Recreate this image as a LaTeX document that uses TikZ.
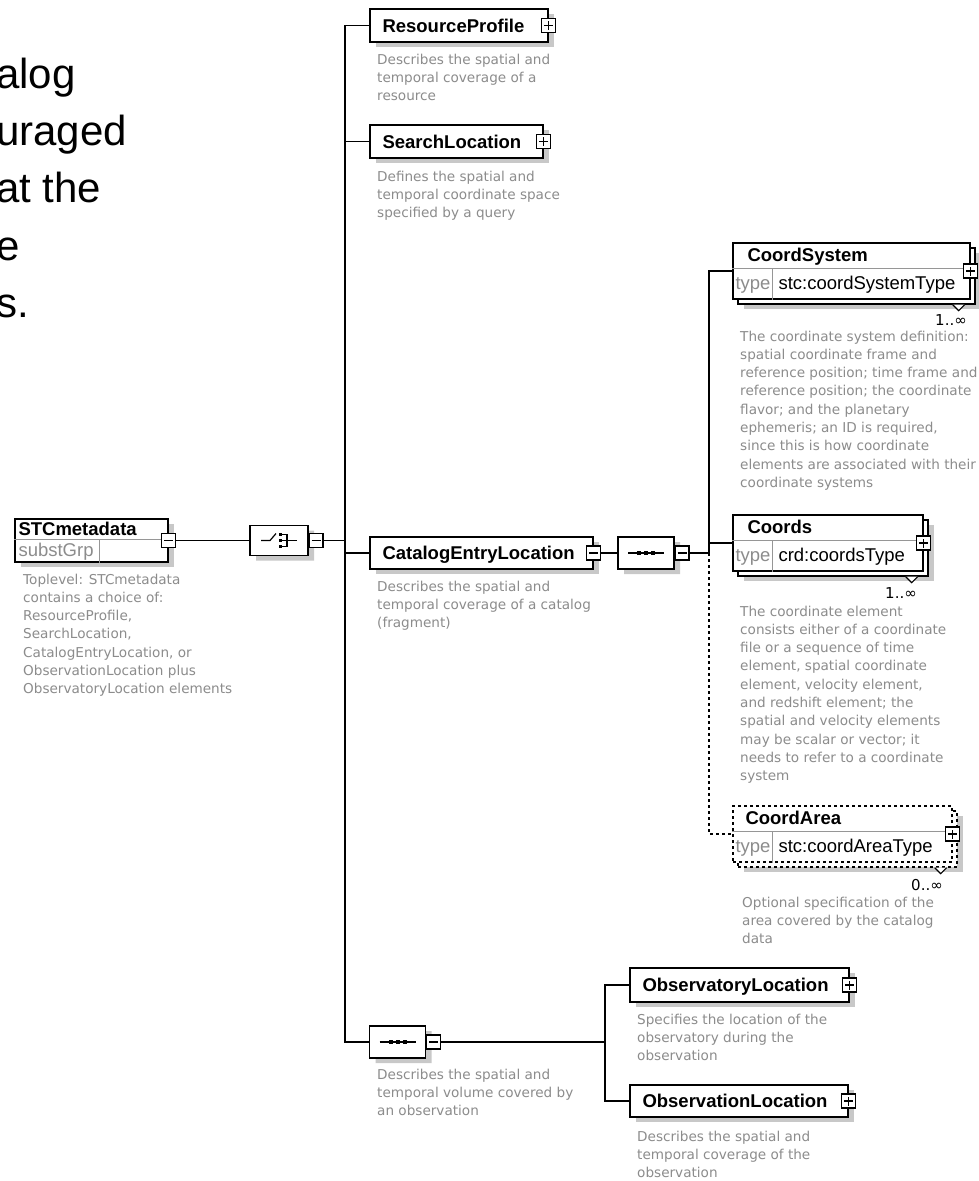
\documentclass[tikz,border=0pt]{standalone}
\usepackage{fontspec}
\setmainfont{DejaVu Sans}
\newfontfamily\headfont{Liberation Sans}
\newfontfamily\notefont{DejaVu Sans}
\usetikzlibrary{calc,shapes.misc}

\definecolor{notegray}{RGB}{140,140,140}
\definecolor{shade}{RGB}{200,200,200}
\definecolor{rulegray}{RGB}{150,150,150}

\tikzset{
  wire/.style={line width=1.3pt, black},
  optwire/.style={wire, dash pattern=on 3pt off 3pt},
  shadowed/.style={preaction={draw=none, fill=shade, transform canvas={shift={(6pt,-5pt)}}}},
  elembox/.style={rectangle, draw=black, line width=1.4pt, fill=white, inner sep=0pt},
  optbox/.style={elembox, dash pattern=on 3pt off 3pt},
  compositor/.style={chamfered rectangle, chamfered rectangle xsep=7pt, chamfered rectangle ysep=7pt,
    draw=black, line width=1.3pt, fill=white, inner sep=0pt, shadowed},
  btn/.style={rectangle, draw=black, line width=1.1pt, fill=white, minimum size=14pt, inner sep=0pt},
  minusbtn/.style={btn, path picture={\draw[line width=1.1pt]
    ($(path picture bounding box.center)+(-4.5pt,0pt)$) -- ($(path picture bounding box.center)+(4.5pt,0pt)$);}},
  plusbtn/.style={btn, path picture={\draw[line width=1.1pt]
    ($(path picture bounding box.center)+(-4.5pt,0pt)$) -- ($(path picture bounding box.center)+(4.5pt,0pt)$)
    ($(path picture bounding box.center)+(0pt,-4.5pt)$) -- ($(path picture bounding box.center)+(0pt,4.5pt)$);}},
  elemname/.style={font=\headfont\bfseries\fontsize{18.5}{20}\selectfont, inner sep=0pt, anchor=west,
    text height=13.2pt, text depth=0pt},
  typename/.style={font=\headfont\fontsize{18.5}{20}\selectfont, inner sep=0pt, anchor=west,
    text height=13.2pt, text depth=0pt},
  typelabel/.style={typename, text=notegray},
  note/.style={font=\notefont\fontsize{13.6}{18.3}\selectfont, text=notegray, align=left,
    anchor=north west, inner sep=0pt},
  card/.style={font=\notefont\fontsize{15}{15}\selectfont, inner sep=0pt, anchor=east},
  slide/.style={font=\headfont\fontsize{42}{57}\selectfont, inner sep=0pt, anchor=base west},
  notch/.style={draw=black, line width=1.1pt, fill=white},
}

\begin{document}
\begin{tikzpicture}[x=1pt, y=-1pt]
\useasboundingbox (0,0) rectangle (978,1181);
\fill[white] (0,0) rectangle (978,1181);

% slide text running off the left edge
\node[slide] (s1) at (-4,88) {alog};
\node[slide] (s2) at (-4,145) {uraged};
\node[slide] (s3) at (-4,202) {at the};
\node[slide] (s4) at (-4,260) {e};
\node[slide] (s5) at (-4,317) {s.};

% ---------- root element ----------
\node[elembox, shadowed, minimum width=153pt, minimum height=43pt] (stcm) at (91.5,540.5) {};
\draw[rulegray, line width=1pt] ($(stcm.north west)+(0,21)$) -- ($(stcm.north east)+(0,21)$);
\draw[rulegray, line width=1pt] ($(stcm.north west)+(85,21)$) -- ($(stcm.south west)+(85,0)$);
\node[elemname] (stcmname) at ($(stcm.north west)+(4,11)$) {STCmetadata};
\node[typelabel] (stcmsub) at ($(stcm.north west)+(4,32)$) {substGrp};
\node[minusbtn] (stcmbtn) at (stcm.east) {};
\node[note] (stcmnote) at (23,573.5) {Toplevel: STCmetadata\\contains a choice of:\\ResourceProfile,\\SearchLocation,\\CatalogEntryLocation, or\\ObservationLocation plus\\ObservatoryLocation elements};

% ---------- choice compositor ----------
\node[compositor, minimum width=58pt, minimum height=30pt] (choice) at (279,540.5) {};
\node[minusbtn] (choicebtn) at (316,540.5) {};
\draw[wire, line width=1.2pt] ($(choice.center)+(-18,0)$) -- ($(choice.center)+(-9,0)$) -- ($(choice.center)+(-3,-7)$);
\foreach \dy in {-6,0,6}{
  \fill ($(choice.center)+(0,\dy-1.5)$) rectangle ++(3,3);
  \draw[line width=1.1pt] ($(choice.center)+(3,\dy)$) -- ($(choice.center)+(8,\dy)$);
}
\draw[line width=1.2pt] ($(choice.center)+(8,-6.5)$) -- ($(choice.center)+(8,6.5)$);
\draw[line width=1.2pt] ($(choice.center)+(8,0)$) -- ($(choice.center)+(18,0)$);
\draw[wire] (stcmbtn.east) -- (choice.west);

% ---------- children of the choice ----------
\node[elembox, shadowed, minimum width=178pt, minimum height=33pt] (rp) at (459,25.5) {};
\node[elemname] (rpname) at ($(rp.west)+(13,0)$) {ResourceProfile};
\node[plusbtn] (rpbtn) at (rp.east) {};
\node[note] (rpnote) at (377,53.5) {Describes the spatial and\\temporal coverage of a\\resource};

\node[elembox, shadowed, minimum width=173pt, minimum height=33pt] (sl) at (456.5,141.5) {};
\node[elemname] (slname) at ($(sl.west)+(13,0)$) {SearchLocation};
\node[plusbtn] (slbtn) at (sl.east) {};
\node[note] (slnote) at (377,170.5) {Defines the spatial and\\temporal coordinate space\\specified by a query};

\node[elembox, shadowed, minimum width=223pt, minimum height=32pt] (cel) at (481.5,553) {};
\node[elemname] (celname) at ($(cel.west)+(13,0)$) {CatalogEntryLocation};
\node[minusbtn] (celbtn) at (cel.east) {};
\node[note] (celnote) at (377,580.5) {Describes the spatial and\\temporal coverage of a catalog\\(fragment)};

\node[compositor, minimum width=56pt, minimum height=32pt] (seqB) at (397.5,1042) {};
\node[minusbtn] (seqBbtn) at (433.5,1042) {};
\node[note] (seqBnote) at (377,1068.5) {Describes the spatial and\\temporal volume covered by\\an observation};

% main bus
\coordinate (bus) at (345,0);
\draw[wire] (rp.west) -- (rp.west -| bus) -- (seqB.west -| bus) -- (seqB.west);
\draw[wire] (sl.west) -- (sl.west -| bus);
\draw[wire] (cel.west) -- (cel.west -| bus);
\draw[wire] (choicebtn.east) -- (choicebtn.east -| bus);

% ---------- sequence under CatalogEntryLocation ----------
\node[compositor, minimum width=56pt, minimum height=32pt] (seqA) at (646,553) {};
\node[minusbtn] (seqAbtn) at (682,553) {};
\draw[wire] (celbtn.east) -- (seqA.west);

% CoordSystem (1..unbounded)
\node[elembox, shadowed, minimum width=237pt, minimum height=56pt] (csysback) at (856.5,276) {};
\node[elembox, minimum width=237pt, minimum height=56pt] (csys) at (851.5,271) {};
\draw[rulegray, line width=1pt] ($(csys.north west)+(0,26)$) -- ($(csys.north east)+(0,26)$);
\draw[rulegray, line width=1pt] ($(csys.north west)+(40,26)$) -- ($(csys.south west)+(40,0)$);
\node[elemname] (csysname) at ($(csys.north west)+(15,13)$) {CoordSystem};
\node[typelabel] (csystype) at ($(csys.north west)+(3,41)$) {type};
\node[typename] (csysval) at ($(csys.north west)+(46,41)$) {stc:coordSystemType};
\node[plusbtn] (csysbtn) at (csys.east) {};
\draw[notch] ($(csysback.south east)+(-23,0)$) -- ++(6,6) -- ++(6,-6);
\node[card] (csyscard) at (967,320) {1..∞};
\node[note] (csysnote) at (740,330.5) {The coordinate system definition:\\spatial coordinate frame and\\reference position; time frame and\\reference position; the coordinate\\flavor; and the planetary\\ephemeris; an ID is required,\\since this is how coordinate\\elements are associated with their\\coordinate systems};

% Coords (1..unbounded)
\node[elembox, shadowed, minimum width=190pt, minimum height=56pt] (crdsback) at (833,548) {};
\node[elembox, minimum width=190pt, minimum height=56pt] (crds) at (828,543) {};
\draw[rulegray, line width=1pt] ($(crds.north west)+(0,26)$) -- ($(crds.north east)+(0,26)$);
\draw[rulegray, line width=1pt] ($(crds.north west)+(40,26)$) -- ($(crds.south west)+(40,0)$);
\node[elemname] (crdsname) at ($(crds.north west)+(15,13)$) {Coords};
\node[typelabel] (crdstype) at ($(crds.north west)+(3,41)$) {type};
\node[typename] (crdsval) at ($(crds.north west)+(46,41)$) {crd:coordsType};
\node[plusbtn] (crdsbtn) at (crds.east) {};
\draw[notch] ($(crdsback.south east)+(-23,0)$) -- ++(6,6) -- ++(6,-6);
\node[card] (crdscard) at (917,593) {1..∞};
\node[note] (crdsnote) at (740,605.5) {The coordinate element\\consists either of a coordinate\\file or a sequence of time\\element, spatial coordinate\\element, velocity element,\\and redshift element; the\\spatial and velocity elements\\may be scalar or vector; it\\needs to refer to a coordinate\\system};

% CoordArea (0..unbounded, optional)
\node[optbox, shadowed, minimum width=219pt, minimum height=56pt] (careaback) at (847.5,839) {};
\node[optbox, minimum width=219pt, minimum height=56pt] (carea) at (842.5,834) {};
\draw[rulegray, line width=1pt] ($(carea.north west)+(0,26)$) -- ($(carea.north east)+(0,26)$);
\draw[rulegray, line width=1pt] ($(carea.north west)+(40,26)$) -- ($(carea.south west)+(40,0)$);
\node[elemname] (careaname) at ($(carea.north west)+(13,13)$) {CoordArea};
\node[typelabel] (careatype) at ($(carea.north west)+(3,41)$) {type};
\node[typename] (careaval) at ($(carea.north west)+(46,41)$) {stc:coordAreaType};
\node[plusbtn] (careabtn) at (carea.east) {};
\draw[notch] ($(careaback.south east)+(-23,0)$) -- ++(6,6) -- ++(6,-6);
\node[card] (careacard) at (943,885) {0..∞};
\node[note] (careanote) at (742,896.5) {Optional specification of the\\area covered by the catalog\\data};

% bus of the catalog sequence
\coordinate (bus2) at (709,0);
\draw[wire] (csys.west) -- (csys.west -| bus2) -- (seqAbtn.east -| bus2);
\draw[wire] (crds.west) -- (crds.west -| bus2);
\draw[wire] (seqAbtn.east) -- (seqAbtn.east -| bus2);
\draw[optwire] (seqAbtn.east -| bus2) -- (carea.west -| bus2) -- (carea.west);

% ---------- sequence for the observation ----------
\node[elembox, shadowed, minimum width=219pt, minimum height=34pt] (obsy) at (739.5,985) {};
\node[elemname] (obsyname) at ($(obsy.west)+(13,0)$) {ObservatoryLocation};
\node[plusbtn] (obsybtn) at (obsy.east) {};
\node[note] (obsynote) at (637,1013.5) {Specifies the location of the\\observatory during the\\observation};

\node[elembox, shadowed, minimum width=218pt, minimum height=32pt] (obsn) at (739,1101) {};
\node[elemname] (obsnname) at ($(obsn.west)+(13,0)$) {ObservationLocation};
\node[plusbtn] (obsnbtn) at (obsn.east) {};
\node[note] (obsnnote) at (637,1130.5) {Describes the spatial and\\temporal coverage of the\\observation};

\coordinate (bus3) at (605,0);
\draw[wire] (obsy.west) -- (obsy.west -| bus3) -- (obsn.west -| bus3) -- (obsn.west);
\draw[wire] (seqBbtn.east) -- (seqBbtn.east -| bus3);

% sequence symbols
\foreach \s in {seqA,seqB}{
  \draw[line width=1.2pt] ($(\s.center)+(-18,0)$) -- ($(\s.center)+(18,0)$);
  \foreach \dx in {-9,-2,5}{
    \fill ($(\s.center)+(\dx,-2)$) rectangle ++(4,4);
  }
}
\end{tikzpicture}
\end{document}
